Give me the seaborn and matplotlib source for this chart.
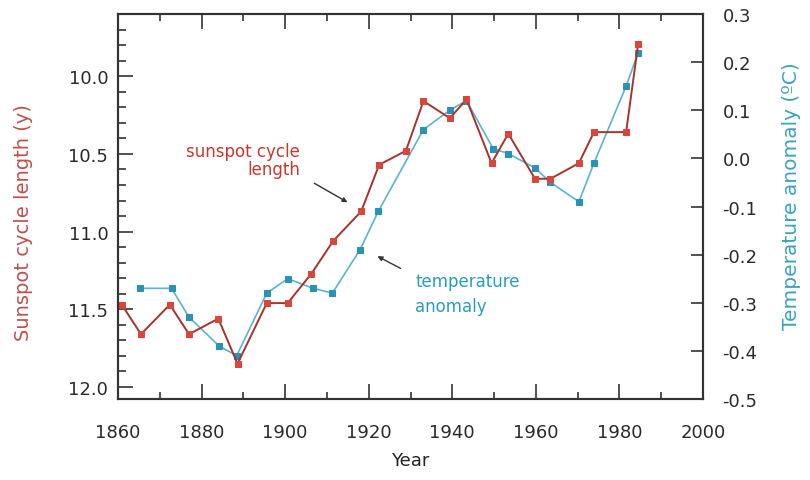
import matplotlib
matplotlib.use('Agg')
import matplotlib.pyplot as plt
import seaborn as sns
import pandas as pd
from matplotlib.ticker import MultipleLocator, FormatStrFormatter

# Sunspot cycle length (left axis, inverted)
sun_years = [1860.9, 1865.5, 1872.4, 1877.0, 1884.0, 1888.6, 1895.6, 1900.6,
             1906.3, 1911.5, 1918.2, 1922.5, 1928.9, 1933.1, 1939.4, 1943.4,
             1949.4, 1953.4, 1959.8, 1963.5, 1970.3, 1973.9, 1981.6, 1984.5]
sun_length = [11.47, 11.66, 11.47, 11.66, 11.56, 11.85, 11.46, 11.46,
              11.27, 11.06, 10.87, 10.57, 10.48, 10.16, 10.27, 10.15,
              10.56, 10.37, 10.66, 10.66, 10.56, 10.36, 10.36, 9.79]

# Temperature anomaly (right axis)
temp_years = [1865.3, 1872.8, 1877.0, 1884.2, 1888.4, 1895.6, 1900.6, 1906.7,
              1911.3, 1917.9, 1922.3, 1933.1, 1939.4, 1943.4, 1949.8, 1953.4,
              1959.8, 1963.5, 1970.3, 1973.9, 1981.6, 1984.5]
temp_anom = [-0.27, -0.27, -0.33, -0.39, -0.41, -0.28, -0.25, -0.27,
             -0.28, -0.19, -0.11, 0.06, 0.10, 0.12, 0.02, 0.01,
             -0.02, -0.05, -0.09, -0.01, 0.15, 0.22]

df_sun = pd.DataFrame({'year': sun_years, 'length': sun_length})
df_temp = pd.DataFrame({'year': temp_years, 'anom': temp_anom})

red_line = '#a8322c'
red_mark = '#d8463c'
blue_line = '#5ab4d2'
blue_mark = '#2a93b5'

sns.set_style('white')
plt.rcParams['font.family'] = ['DejaVu Sans']

fig = plt.figure(figsize=(8.1, 4.81), dpi=100)
ax = fig.add_axes([0.1457, 0.1684, 0.7222, 0.8004])
ax2 = ax.twinx()

# temperatura primero, la curva de manchas solares queda encima
sns.lineplot(data=df_temp, x='year', y='anom', ax=ax2, color=blue_line,
             linewidth=1.2, marker='s', markersize=4.5,
             markerfacecolor=blue_mark, markeredgecolor=blue_mark)
sns.lineplot(data=df_sun, x='year', y='length', ax=ax, color=red_line,
             linewidth=1.4, marker='s', markersize=4.5,
             markerfacecolor=red_mark, markeredgecolor=red_mark)
ax.set_zorder(ax2.get_zorder() + 1)
ax.patch.set_visible(False)

ax.set_xlim(1860, 2000)
ax.set_ylim(12.077, 9.6)
ax2.set_ylim(-0.5, 0.3)

ax.xaxis.set_major_locator(MultipleLocator(20))
ax.xaxis.set_minor_locator(MultipleLocator(10))
ax.yaxis.set_major_locator(MultipleLocator(0.5))
ax.yaxis.set_minor_locator(MultipleLocator(0.1))
ax2.yaxis.set_major_locator(MultipleLocator(0.1))
ax.yaxis.set_major_formatter(FormatStrFormatter('%.1f'))
ax2.yaxis.set_major_formatter(FormatStrFormatter('%.1f'))

tick_fs = 13
ax.tick_params(axis='x', which='both', direction='in', top=True, bottom=True,
               labelsize=tick_fs, pad=17, width=1.2, color='#333333',
               labelcolor='#2a2a2a')
ax.tick_params(axis='x', which='major', length=11)
ax.tick_params(axis='x', which='minor', length=5)
ax.tick_params(axis='y', which='both', direction='in', left=True, right=False,
               labelsize=tick_fs, pad=7, width=1.2, color='#333333',
               labelcolor='#2a2a2a')
ax.tick_params(axis='y', which='major', length=11)
ax.tick_params(axis='y', which='minor', length=6)
ax2.tick_params(axis='y', which='major', direction='in', right=True, left=False,
                labelsize=tick_fs, pad=14, length=9, width=1.2, color='#333333',
                labelcolor='#2a2a2a')

for a in (ax, ax2):
    for s in a.spines.values():
        s.set_visible(True)
        s.set_color('#333333')
        s.set_linewidth(1.5)

ax.set_xlabel('Year', fontsize=13, color='#222222')
ax.set_ylabel('Sunspot cycle length (y)', fontsize=14, color='#c0504a')
ax2.set_ylabel('Temperature anomaly (ºC)', fontsize=14.5, color='#3aa3c0')
ax.xaxis.set_label_coords(0.5, -0.135)
ax.yaxis.set_label_coords(-0.145, 0.46)
ax2.yaxis.set_label_coords(1.135, 0.53)

# Anotaciones
ax.text(1903.6, 10.48, 'sunspot cycle', color='#c8382e', fontsize=12,
        ha='right', va='center')
ax.text(1903.6, 10.6, 'length', color='#c8382e', fontsize=12,
        ha='right', va='center')
ax.annotate('', xy=(1915.5, 10.82), xytext=(1906.4, 10.68),
            arrowprops=dict(arrowstyle='-|>', color='#333333', lw=1,
                            mutation_scale=7))
ax.text(1931.1, 11.32, 'temperature', color='#2a9cc0', fontsize=12,
        ha='left', va='center')
ax.text(1931.1, 11.48, 'anomaly', color='#2a9cc0', fontsize=12,
        ha='left', va='center')
ax.annotate('', xy=(1921.5, 11.15), xytext=(1928.2, 11.245),
            arrowprops=dict(arrowstyle='-|>', color='#333333', lw=1,
                            mutation_scale=7))

fig.savefig('out.png', dpi=100)
